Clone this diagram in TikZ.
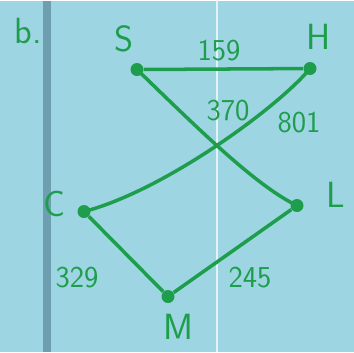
\documentclass[tikz,border=0pt]{standalone}
\usepackage{xcolor}
\usetikzlibrary{positioning}
\definecolor{paper}{HTML}{9DD5E3}
\definecolor{margin}{HTML}{6E9FB0}
\definecolor{ink}{HTML}{1E9E4C}
\tikzset{
  dot/.style={circle,fill=ink,inner sep=0pt,minimum size=0.26cm},
  edge/.style={draw=ink,line width=2pt},
  lbl/.style={text=ink,font=\sffamily\huge},
  wt/.style={text=ink,font=\sffamily\LARGE}
}
\begin{document}
\begin{tikzpicture}[x=0.02cm,y=-0.02cm]
                \fill[paper] (0,0) rectangle (354,351);
                \fill[margin] (43,0) rectangle (51,351);
                \draw[white!70!paper,line width=0.6pt] (217,0)--(217,351);
                \node[dot] (s) at (137,69) {};
                \node[dot] (h) at (310,68) {};
                \node[dot] (c) at (84,211) {};
                \node[dot] (l) at (297,205) {};
                \node[dot] (m) at (168,296) {};
                \node[lbl] (b) at (28,30) {b.};
                \node[lbl] (sl) at (124,38) {S};
                \node[lbl] (hl) at (319,36) {H};
                \node[lbl] (cl) at (54,203) {C};
                \node[lbl] (ll) at (336,194) {L};
                \node[lbl] (ml) at (178,326) {M};
                \node[wt] (w159) at (219,50) {159};
                \node[wt] (w370) at (228,110) {370};
                \node[wt] (w801) at (299,122) {801};
                \node[wt] (w329) at (77,277) {329};
                \node[wt] (w245) at (250,277) {245};
                \draw[edge] (s)--(h);
                \draw[edge] (s.center) .. controls (195,125) and (255,185) .. (l.center);
                \draw[edge] (c.center) .. controls (165,190) and (280,105) .. (h.center);
                \draw[edge] (c)--(m);
                \draw[edge] (m)--(l);
            \end{tikzpicture}
\end{document}
